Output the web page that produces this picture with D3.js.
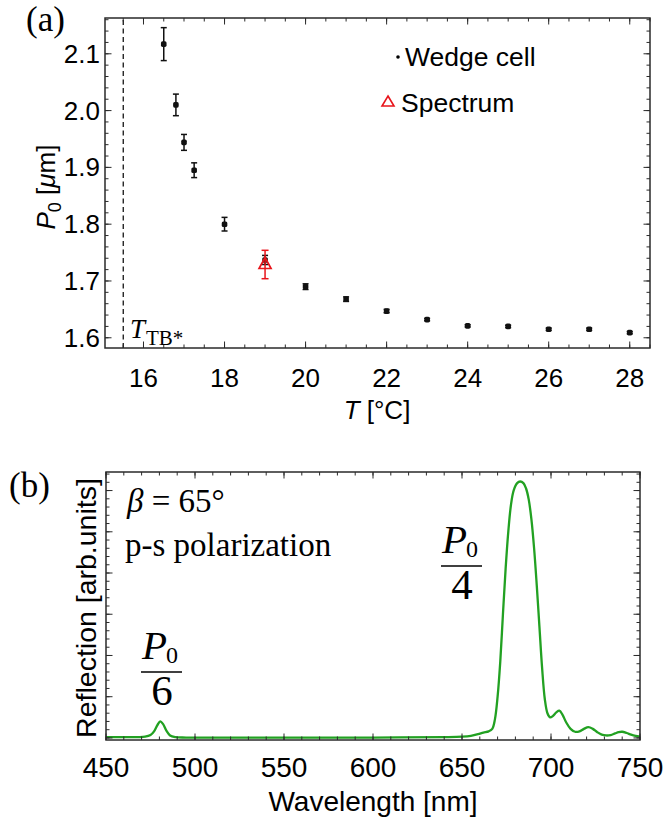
<!DOCTYPE html>
<html><head><meta charset="utf-8">
<script src="https://cdn.jsdelivr.net/npm/d3@7"></script>
<style>body{margin:0;background:#fff}svg{display:block}</style>
</head><body>
<svg id="fig" width="665" height="817"></svg>
<script>
// ---- Panel (a): helical pitch P0 versus temperature ----
const temperature = [16.5, 16.8, 17.0, 17.25, 18, 19, 20, 21, 22, 23, 24, 25, 26, 27, 28];
const pitch       = [2.117, 2.010, 1.944, 1.895, 1.800, 1.737, 1.690, 1.668, 1.647, 1.632, 1.621, 1.620, 1.615, 1.615, 1.609];
const pitchErr    = [0.029, 0.019, 0.014, 0.013, 0.012, 0.008, 0.005, 0.004, 0.003, 0.002, 0.002, 0.002, 0.002, 0.002, 0.002];
const spectrumT   = [19];
const spectrumP   = [1.729];
const spectrumErr = [0.025];
const tTB = 15.5;
const tempTicks  = [16, 18, 20, 22, 24, 26, 28];
const pitchTicks = [1.6, 1.7, 1.8, 1.9, 2.0, 2.1];

// ---- Panel (b): reflection spectrum ----
const wavelength = [450, 460, 468, 472, 475, 477, 479, 480.5, 482, 484, 486, 489, 495, 520, 560, 600, 640,
  650, 655, 659, 662, 665, 667, 668.5, 670, 671.5, 673, 674.5, 676, 677.5, 679, 681, 682.7, 684.5, 686,
  687.5, 689, 690.5, 692, 693.5, 695, 696.5, 698, 699.5, 701, 703, 704.7, 706.5, 708.5, 711, 713.5, 716,
  718.5, 721, 723.5, 726, 728.5, 731, 733.5, 736, 738, 740, 742.5, 745, 747.5, 750];
const reflection = [0.002, 0.002, 0.002, 0.003, 0.007, 0.016, 0.032, 0.040, 0.034, 0.017, 0.006, 0.002, 0.001, 0.001, 0.001, 0.001, 0.002,
  0.003, 0.005, 0.009, 0.013, 0.016, 0.022, 0.045, 0.100, 0.185, 0.300, 0.410, 0.500, 0.565, 0.600, 0.618, 0.622, 0.618, 0.605,
  0.578, 0.530, 0.460, 0.370, 0.270, 0.170, 0.095, 0.060, 0.050, 0.053, 0.062, 0.066, 0.056, 0.038, 0.022, 0.015, 0.016,
  0.022, 0.026, 0.022, 0.014, 0.008, 0.006, 0.007, 0.011, 0.014, 0.015, 0.012, 0.008, 0.005, 0.003];
const waveTicks = [450, 500, 550, 600, 650, 700, 750];

const SANS = "'Liberation Sans', Arial, sans-serif";
const SERIF = "'Liberation Serif', 'Times New Roman', serif";
const FRAME = "#2a2a2a";

const svg = d3.select("#fig");

// Mathematica-style frame with inward ticks on all four sides
function drawFrame(g, x, y, xMajor, xMinor, yMajor, yMinor) {
  const [x0, x1] = x.range(), [yb, yt] = y.range();
  const mk = (lo, hi, step) => d3.range(Math.ceil(lo / step - 1e-9) * step, hi + 1e-9, step);
  const [dx0, dx1] = x.domain(), [dy0, dy1] = y.domain();
  const tk = g.append("g").attr("stroke", FRAME).attr("stroke-width", 1);
  const xs = [...mk(dx0, dx1, xMinor).map(v => [v, 3.5]), ...mk(dx0, dx1, xMajor).map(v => [v, 6.5])];
  xs.forEach(([v, len]) => {
    const px = x(v);
    tk.append("line").attr("x1", px).attr("x2", px).attr("y1", yb).attr("y2", yb - len);
    tk.append("line").attr("x1", px).attr("x2", px).attr("y1", yt).attr("y2", yt + len);
  });
  const ys = [...mk(dy0, dy1, yMinor).map(v => [v, 3.5]), ...mk(dy0, dy1, yMajor).map(v => [v, 6.5])];
  ys.forEach(([v, len]) => {
    const py = y(v);
    tk.append("line").attr("y1", py).attr("y2", py).attr("x1", x0).attr("x2", x0 + len);
    tk.append("line").attr("y1", py).attr("y2", py).attr("x1", x1).attr("x2", x1 - len);
  });
  g.append("rect").attr("x", x0).attr("y", yt).attr("width", x1 - x0).attr("height", yb - yt)
    .attr("fill", "none").attr("stroke", FRAME).attr("stroke-width", 1.5);
}

// ================= Panel (a) =================
const xa = d3.scaleLinear().domain([15.05, 28.5]).range([105, 650]);
const ya = d3.scaleLinear().domain([1.582, 2.163]).range([348, 18]);
const ga = svg.append("g");

// T_TB* boundary
ga.append("line").attr("x1", xa(tTB)).attr("x2", xa(tTB)).attr("y1", ya.range()[0]).attr("y2", ya.range()[1])
  .attr("stroke", "#000").attr("stroke-width", 1.2).attr("stroke-dasharray", "5,3.5");

drawFrame(ga, xa, ya, 2, 0.5, 0.1, 0.02);

ga.append("g").selectAll("text").data(tempTicks).join("text")
  .attr("x", d => xa(d)).attr("y", 387).attr("text-anchor", "middle")
  .attr("font-family", SANS).attr("font-size", 26).text(d => d);
ga.append("g").selectAll("text").data(pitchTicks).join("text")
  .attr("x", 100).attr("y", d => ya(d) + 9).attr("text-anchor", "end")
  .attr("font-family", SANS).attr("font-size", 26).text(d => d.toFixed(1));

// wedge-cell measurements with error bars
const pts = temperature.map((t, i) => ({ t, p: pitch[i], e: pitchErr[i] }));
const eb = ga.append("g").attr("stroke", "#111").attr("stroke-width", 1.5);
pts.forEach(d => {
  const px = xa(d.t), top = ya(d.p + d.e), bot = ya(d.p - d.e);
  eb.append("line").attr("x1", px).attr("x2", px).attr("y1", top).attr("y2", bot);
  eb.append("line").attr("x1", px - 3).attr("x2", px + 3).attr("y1", top).attr("y2", top);
  eb.append("line").attr("x1", px - 3).attr("x2", px + 3).attr("y1", bot).attr("y2", bot);
});
ga.append("g").selectAll("rect").data(pts).join("rect")
  .attr("x", d => xa(d.t) - 2.8).attr("y", d => ya(d.p) - 2.8).attr("width", 5.6).attr("height", 5.6)
  .attr("rx", 1.6).attr("fill", "#111");

// value obtained from the reflection spectrum
const spec = spectrumT.map((t, i) => ({ t, p: spectrumP[i], e: spectrumErr[i] }));
const sr = ga.append("g").attr("stroke", "#e8141b").attr("stroke-width", 1.5).attr("fill", "none");
spec.forEach(d => {
  const px = xa(d.t), py = ya(d.p), top = ya(d.p + d.e), bot = ya(d.p - d.e);
  sr.append("line").attr("x1", px).attr("x2", px).attr("y1", top).attr("y2", bot);
  sr.append("line").attr("x1", px - 3.5).attr("x2", px + 3.5).attr("y1", top).attr("y2", top);
  sr.append("line").attr("x1", px - 3.5).attr("x2", px + 3.5).attr("y1", bot).attr("y2", bot);
  sr.append("path").attr("d", `M${px},${py - 7}L${px + 6},${py + 4}L${px - 6},${py + 4}Z`).attr("stroke-width", 1.7);
});

// legend
ga.append("circle").attr("cx", 398).attr("cy", 57).attr("r", 1.8).attr("fill", "#000");
ga.append("text").attr("x", 405).attr("y", 66).attr("font-family", SANS).attr("font-size", 26.5).text("Wedge cell");
ga.append("path").attr("d", "M388,96L394,106L382,106Z").attr("fill", "none").attr("stroke", "#e8141b").attr("stroke-width", 1.6);
ga.append("text").attr("x", 401).attr("y", 112).attr("font-family", SANS).attr("font-size", 26.5).text("Spectrum");

// T_TB* label
const tl = ga.append("text").attr("x", 130).attr("y", 338).attr("font-family", SERIF).attr("font-size", 27);
tl.append("tspan").attr("font-style", "italic").text("T");
tl.append("tspan").attr("font-size", 21).attr("dx", 1).attr("dy", 7).text("TB*");

// axis titles
const xt = ga.append("text").attr("x", 377).attr("y", 419).attr("text-anchor", "middle").attr("font-family", SANS).attr("font-size", 26);
xt.append("tspan").attr("font-style", "italic").text("T");
xt.append("tspan").text(" [°C]");
const yt = ga.append("text").attr("transform", "translate(55,187) rotate(-90)").attr("text-anchor", "middle")
  .attr("font-family", SANS).attr("font-size", 26);
yt.append("tspan").attr("font-style", "italic").text("P");
yt.append("tspan").attr("font-size", 18).attr("dy", 6).text("0");
yt.append("tspan").attr("dy", -6).text(" [");
yt.append("tspan").attr("font-style", "italic").text("μ");
yt.append("tspan").text("m]");

svg.append("text").attr("x", 26).attr("y", 31).attr("font-family", SERIF).attr("font-size", 35).text("(a)");

// ================= Panel (b) =================
const xb = d3.scaleLinear().domain([450, 750]).range([106, 640]);
const yb = d3.scaleLinear().domain([-0.005, 0.645]).range([740, 472]);
const gb = svg.append("g");

const line = d3.line().x((d, i) => xb(wavelength[i])).y(d => yb(d)).curve(d3.curveCatmullRom.alpha(0.5));
gb.append("path").datum(reflection).attr("d", line).attr("fill", "none")
  .attr("stroke", "#22a122").attr("stroke-width", 2.3).attr("stroke-linejoin", "round");

drawFrame(gb, xb, yb, 50, 10, 0.1, 0.02);

gb.append("g").selectAll("text").data(waveTicks).join("text")
  .attr("x", d => xb(d)).attr("y", 777).attr("text-anchor", "middle")
  .attr("font-family", SANS).attr("font-size", 28).text(d => d);

gb.append("text").attr("x", 373).attr("y", 811).attr("text-anchor", "middle")
  .attr("font-family", SANS).attr("font-size", 28).text("Wavelength [nm]");
gb.append("text").attr("transform", "translate(96,608) rotate(-90)").attr("text-anchor", "middle")
  .attr("font-family", SANS).attr("font-size", 28.5).text("Reflection [arb.units]");

svg.append("text").attr("x", 9).attr("y", 497).attr("font-family", SERIF).attr("font-size", 35).text("(b)");

// annotations
const beta = gb.append("text").attr("x", 127).attr("y", 512).attr("font-family", SERIF).attr("font-size", 33);
beta.append("tspan").attr("font-style", "italic").text("β");
beta.append("tspan").text(" = 65°");
gb.append("text").attr("x", 125).attr("y", 556).attr("font-family", SERIF).attr("font-size", 33).text("p-s polarization");

function fraction(cx, baseTop, den) {
  const f = gb.append("g").attr("font-family", SERIF);
  const num = f.append("text").attr("x", cx - 20).attr("y", baseTop).attr("font-size", 41);
  num.append("tspan").attr("font-style", "italic").text("P");
  num.append("tspan").attr("font-size", 24).attr("dx", -1).attr("dy", 4).text("0");
  f.append("line").attr("x1", cx - 21).attr("x2", cx + 20).attr("y1", baseTop + 13).attr("y2", baseTop + 13)
    .attr("stroke", "#000").attr("stroke-width", 1.6);
  f.append("text").attr("x", cx).attr("y", baseTop + 46).attr("text-anchor", "middle").attr("font-size", 43).text(den);
}
fraction(162, 659, "6");
fraction(462, 553, "4");
</script>
</body></html>
